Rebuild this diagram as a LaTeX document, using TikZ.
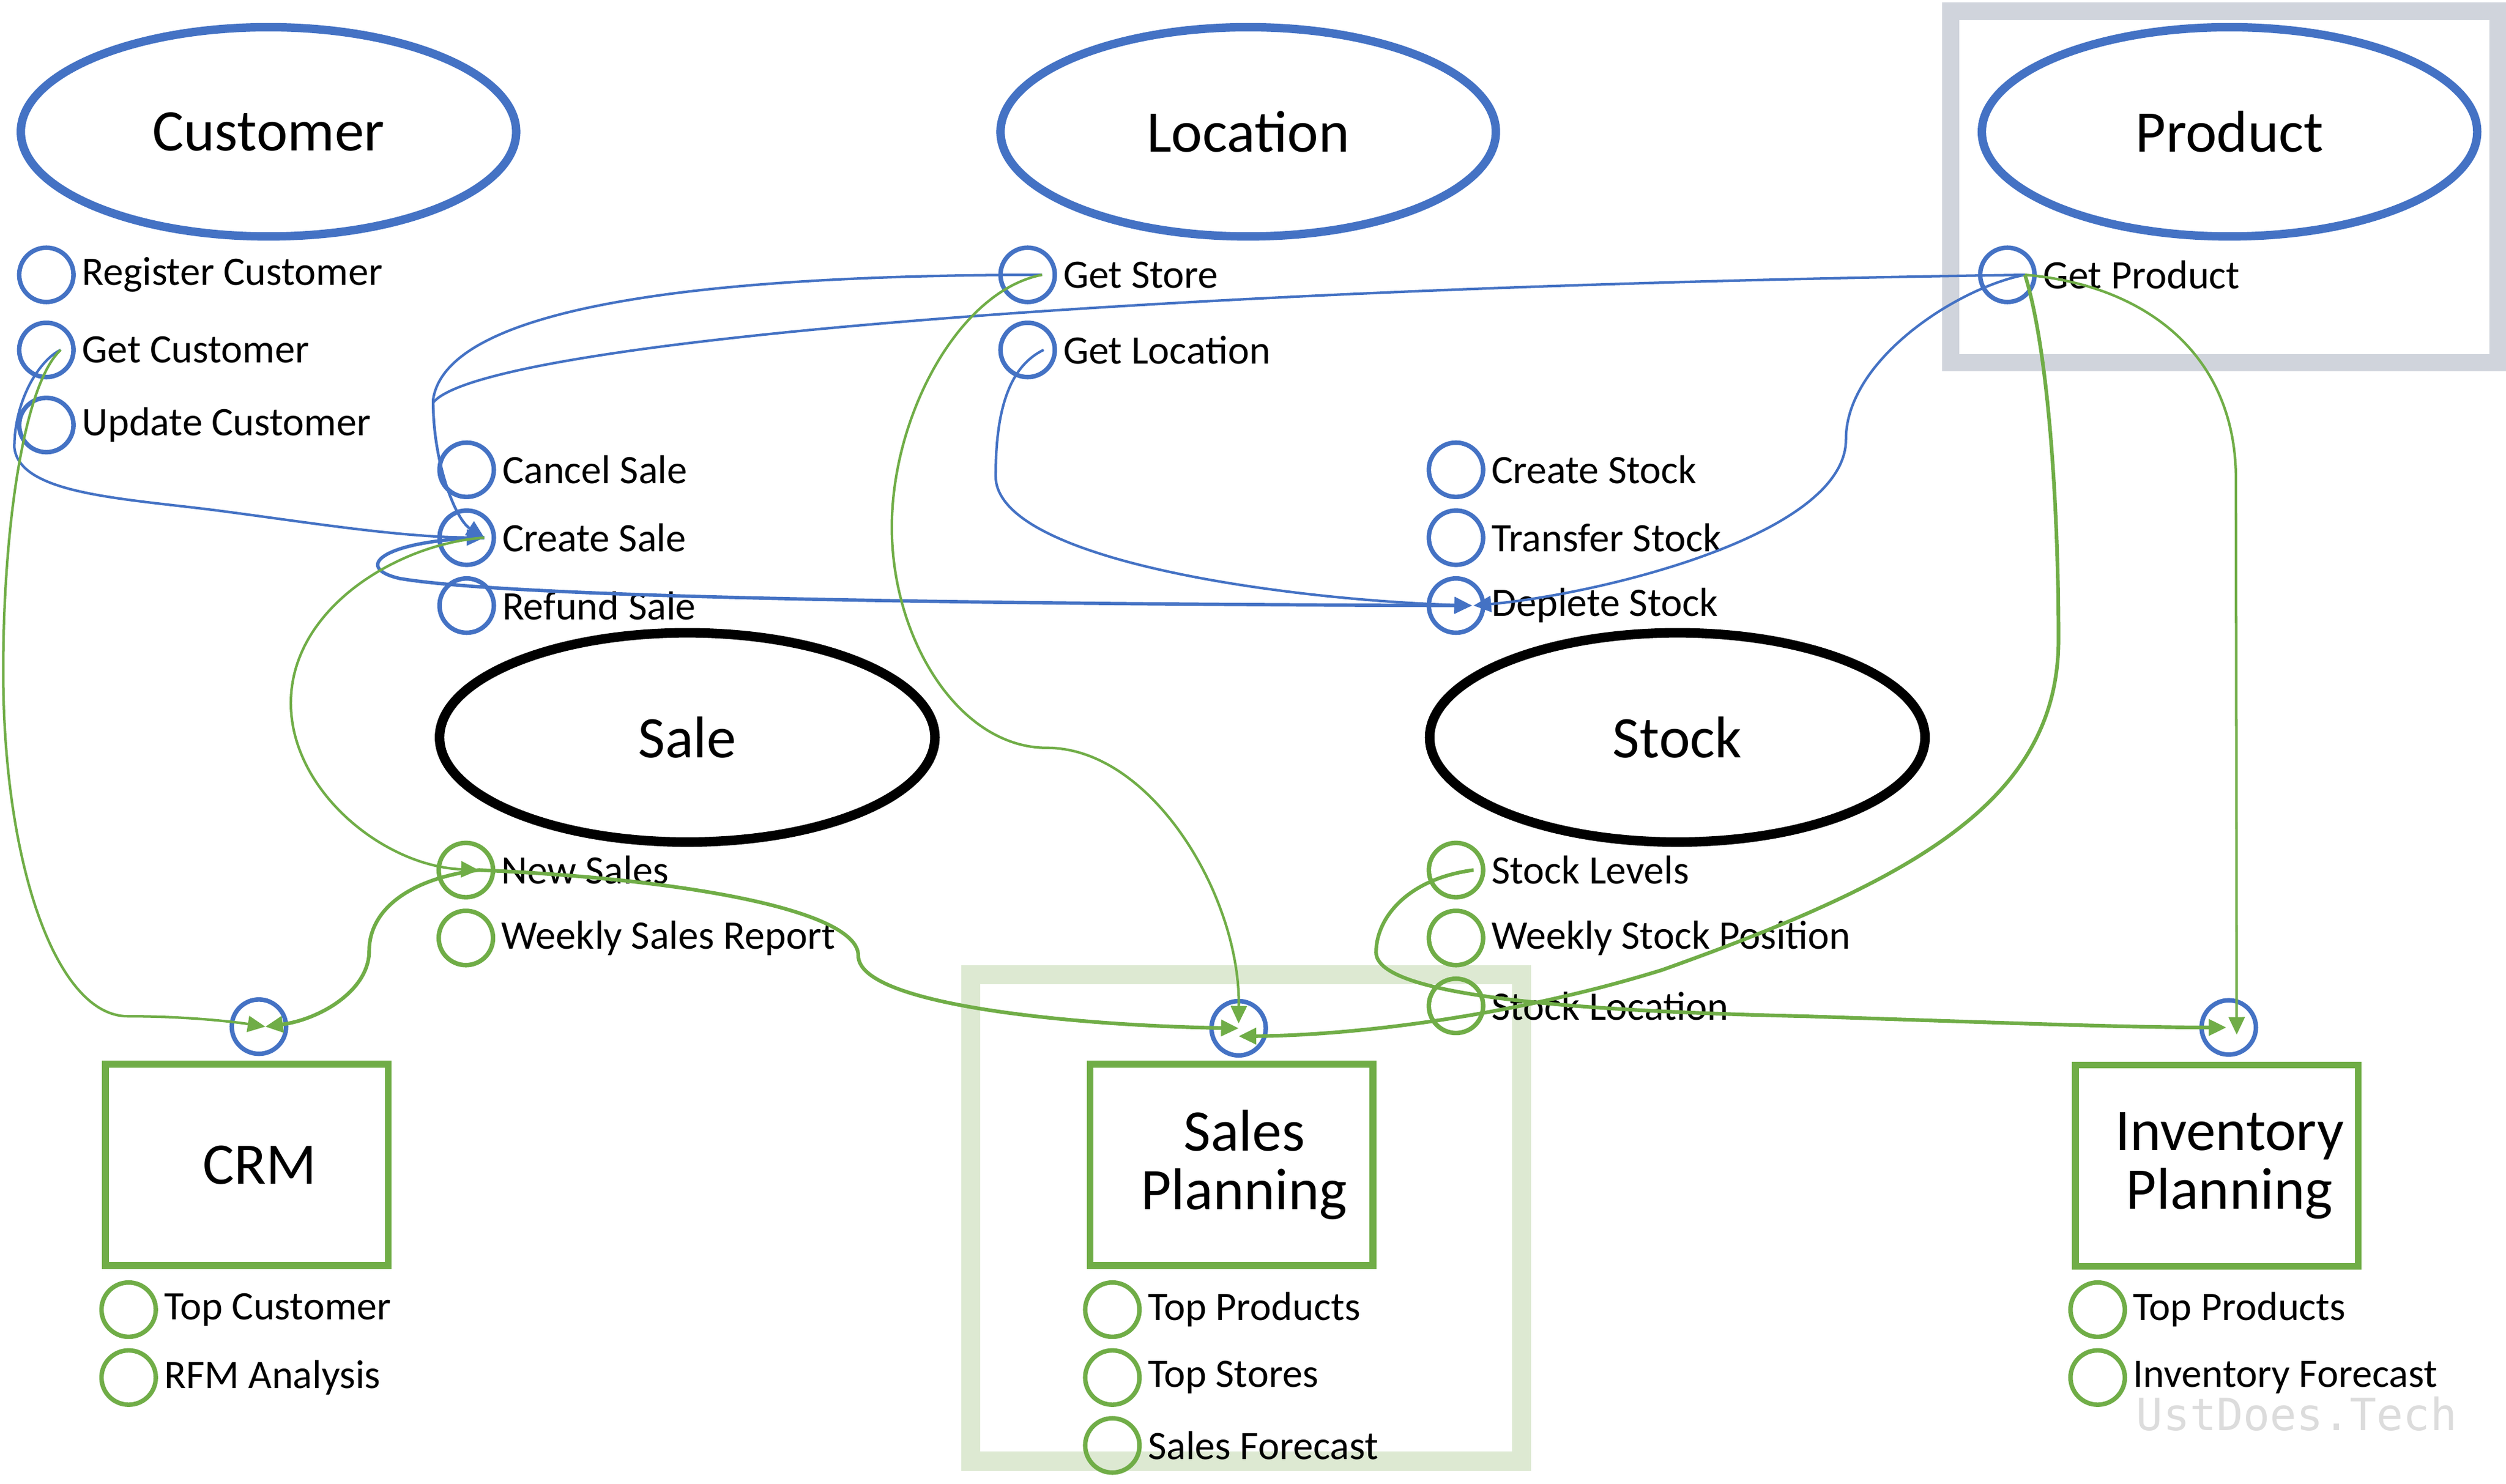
\documentclass[tikz,border=0pt]{standalone}
\usepackage{fontspec}
\setmainfont{Carlito}
\newfontfamily\wmfont{DejaVu Sans Mono}
\usetikzlibrary{positioning,shapes.geometric,arrows.meta}
\definecolor{dblue}{RGB}{68,114,196}
\definecolor{dgreen}{RGB}{112,173,71}
\definecolor{lgreen}{RGB}{221,233,210}
\definecolor{lgray}{RGB}{208,212,220}
\definecolor{wmgray}{RGB}{220,220,220}

\begin{document}
\begin{tikzpicture}[
x=0.02cm, y=-0.02cm,
entity/.style={
  draw=dblue,
  ellipse,
  line width=3pt,
  minimum width=6.2cm,
  minimum height=2.62cm,
  font=\fontsize{21}{22}\selectfont
  },
core/.style={
  entity,
  draw=black,
  line width=3.4pt
  },
port/.style={
  draw=dblue,
  circle,
  line width=1.6pt,
  minimum size=0.68cm,
  inner sep=0pt
  },
oport/.style={
  port,
  draw=dgreen
  },
ptext/.style={
  font=\fontsize{14.4}{16}\selectfont,
  inner sep=2pt
  },
app/.style={
  draw=dgreen,
  line width=2.4pt,
  minimum width=3.54cm,
  minimum height=2.52cm
  },
apptext/.style={
  font=\fontsize{21}{21}\selectfont,
  align=center,
  xshift=0.16cm
  },
flowb/.style={->, draw=dblue, line width=0.9pt},
flowg/.style={->, draw=dgreen, line width=0.9pt},
on grid,
node distance=0.85cm,
>={Triangle[length=2.2mm,width=2mm]}
]
\useasboundingbox (0,0) rectangle (1568,928.7);
% highlight frames
\draw[lgray, line width=0.22cm] (1220.5,7) rectangle (1563,227);
\draw[lgreen, line width=0.24cm] (607.5,610) rectangle (952,914.5);

% domains
\node[entity] (cust) at (168,82.5) {Customer};
\node[entity] (loc) at (781,82.5) {Location};
\node[entity] (prod) at (1395,82.5) {Product};
\node[core] (sale) at (430,461.5) {Sale};
\node[core] (stock) at (1049.5,461.5) {Stock};

% operations
\node[port, label={[ptext]right:Register Customer}] (regcust) at (29,172) {};
\node[port, label={[ptext]right:Get Customer}, below=0.94cm of regcust] (getcust) {};
\node[port, label={[ptext]right:Update Customer}, below=0.94cm of getcust] (updcust) {};
\node[port, label={[ptext]right:Get Store}] (getstore) at (643,172) {};
\node[port, label={[ptext]right:Get Location}, below=0.94cm of getstore] (getloc) {};
\node[port, label={[ptext]right:Get Product}] (getprod) at (1256,172) {};
\node[port, label={[ptext]right:Cancel Sale}] (cancelsale) at (292,294) {};
\node[port, label={[ptext]right:Create Sale}, below=of cancelsale] (createsale) {};
\node[port, label={[ptext]right:Refund Sale}, below=of createsale] (refundsale) {};
\node[port, label={[ptext]right:Create Stock}] (createstock) at (911,294) {};
\node[port, label={[ptext]right:Transfer Stock}, below=of createstock] (transstock) {};
\node[port, label={[ptext]right:Deplete Stock}, below=of transstock] (deplstock) {};

% events
\node[oport, label={[ptext]right:New Sales}] (newsales) at (291.5,544.5) {};
\node[oport, label={[ptext]right:Weekly Sales Report}, below=of newsales] (wksales) {};
\node[oport, label={[ptext]right:Stock Levels}] (stocklev) at (911,544.5) {};
\node[oport, label={[ptext]right:Weekly Stock Position}, below=of stocklev] (wkstock) {};
\node[oport, label={[ptext]right:Stock Location}, below=of wkstock] (stockloc) {};

% consumers
\node[app, label={[apptext]center:CRM}] (crm) at (154.5,729) {};
\node[app, label={[apptext]center:{Sales\\Planning}}] (salesplan) at (770.5,729) {};
\node[app, label={[apptext]center:{Inventory\\Planning}}] (invplan) at (1387,729.5) {};
\node[port] (crmin) at (162,642.5) {};
\node[port] (spin) at (775,643.5) {};
\node[port] (invin) at (1394.5,643) {};
\node[oport, label={[ptext]right:Top Customer}] (topcust) at (80.5,819.6) {};
\node[oport, label={[ptext]right:RFM Analysis}, below=of topcust] (rfm) {};
\node[oport, label={[ptext]right:Top Products}] (sptop) at (696,819.6) {};
\node[oport, label={[ptext]right:Top Stores}, below=of sptop] (spstores) {};
\node[oport, label={[ptext]right:Sales Forecast}, below=of spstores] (spfcst) {};
\node[oport, label={[ptext]right:Top Products}] (invtop) at (1312.5,819.6) {};
\node[oport, label={[ptext]right:Inventory Forecast}, below=of invtop] (invfcst) {};

\node[font=\wmfont\fontsize{15.8}{16}\selectfont, text=wmgray, inner sep=0pt] (mark) at (1437,885) {UstDoes.Tech};

% calls
\draw[flowb] ([xshift=0.18cm]getstore.center) .. controls (450,172) and (280,190) .. (271,250) .. controls (271,290) and (285,325) .. ([xshift=0.22cm]createsale.center);
\draw[flowb] ([xshift=0.22cm]getprod.center) .. controls (700,180) and (300,215) .. (271,252) .. controls (271,290) and (285,325) .. ([xshift=0.22cm]createsale.center);
\draw[flowb] ([xshift=0.18cm]getcust.center) .. controls (25,225) and (9,250) .. (9,280) .. controls (12,310) and (80,312) .. (140,320) .. controls (200,328) and (250,336) .. ([xshift=0.22cm]createsale.center);
\draw[flowb, line width=1.2pt] ([xshift=0.22cm]createsale.center) .. controls (240,338) and (220,355) .. (250,362) .. controls (320,374) and (600,378) .. ([xshift=0.2cm]deplstock.center);
\draw[flowb] ([xshift=0.2cm]getloc.center) .. controls (630,230) and (623,260) .. (623,298) .. controls (623,350) and (800,375) .. ([xshift=0.2cm]deplstock.center);
\draw[flowb] ([xshift=0.22cm]getprod.center) .. controls (1225,180) and (1155,225) .. (1155,275) .. controls (1155,335) and (1000,372) .. ([xshift=0.22cm]deplstock.center);

% feeds
\draw[flowg] ([xshift=0.18cm]getcust.center) .. controls (15,240) and (2,330) .. (2,420) .. controls (2,540) and (35,636) .. (80,636) .. controls (120,636) and (150,640) .. ([xshift=0.08cm]crmin.center);
\draw[flowg, line width=1.3pt] ([xshift=0.16cm]newsales.center) .. controls (255,550) and (231,570) .. (231,595) .. controls (231,620) and (200,638) .. ([xshift=0.08cm]crmin.center);
\draw[flowg] ([xshift=0.22cm]createsale.center) .. controls (250,340) and (182,380) .. (182,440) .. controls (182,495) and (240,542) .. ([xshift=0.16cm]newsales.center);
\draw[flowg, line width=1.3pt] ([xshift=0.16cm]newsales.center) .. controls (430,550) and (537,570) .. (537,598) .. controls (537,630) and (680,642) .. (spin.center);
\draw[flowg] ([xshift=0.18cm]getstore.center) .. controls (600,182) and (558,260) .. (558,330) .. controls (558,400) and (600,468) .. (655,468) .. controls (720,468) and (776,560) .. ([yshift=0.06cm]spin.center);
\draw[flowg, line width=1.3pt] ([xshift=0.22cm]getprod.center) .. controls (1282,220) and (1288,320) .. (1288,400) .. controls (1288,500) and (1200,550) .. (1040,607) .. controls (950,635) and (850,648) .. ([yshift=-0.1cm]spin.center);
\draw[flowg] ([xshift=0.22cm]getprod.center) .. controls (1340,178) and (1399,220) .. (1399,300) -- ([xshift=0.1cm,yshift=-0.09cm]invin.center);
\draw[flowg, line width=1.3pt] ([xshift=0.22cm]stocklev.center) .. controls (880,550) and (861,575) .. (861,596) .. controls (861,625) and (1000,633) .. (1130,636) .. controls (1250,640) and (1330,643) .. ([xshift=-0.03cm]invin.center);
\end{tikzpicture}
\end{document}
